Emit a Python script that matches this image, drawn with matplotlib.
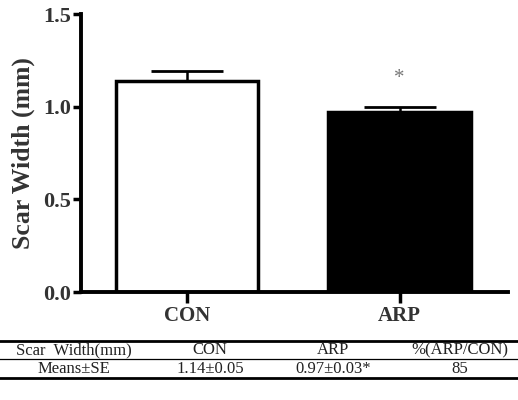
import numpy as np
import matplotlib
matplotlib.use('Agg')
import matplotlib.pyplot as plt
from matplotlib.lines import Line2D

groups = ['CON', 'ARP']
means = [1.14, 0.97]
errs = [0.05, 0.03]
fills = ['white', 'black']
yticks = [0.0, 0.5, 1.0, 1.5]

tab_header = ['Scar  Width(mm)', 'CON', 'ARP', '%(ARP/CON)']
tab_row = ['Means\u00b1SE', '1.14\u00b10.05', '0.97\u00b10.03*', '85']
tab_x = [74, 210, 333, 460]

plt.rcParams['font.family'] = ['Liberation Serif', 'DejaVu Serif']

fig = plt.figure(figsize=(5.18, 4.0), dpi=100)
ax = fig.add_axes([81/518, 1-292/400, (508-81)/518, (292-14)/400])

x = np.arange(len(groups))
ax.bar(x, means, width=0.67, color=fills, edgecolor='black', linewidth=2.5, zorder=2)
ax.errorbar(x, means, yerr=[np.zeros(len(errs)), errs], fmt='none', ecolor='black',
            elinewidth=1.8, capsize=26, capthick=2, zorder=1)
ax.text(x[1], means[1] + errs[1] + 0.1, '*', ha='center', va='bottom', color='#777777', fontsize=15)

ax.set_xlim(-0.5, 1.51)
ax.set_ylim(0, 1.5)
ax.set_yticks(yticks)
ax.set_yticklabels(['%.1f' % v for v in yticks], fontsize=16, fontweight='bold', color='#333333')
ax.set_xticks(x)
ax.set_xticklabels(groups, fontsize=15, fontweight='bold', color='#333333')
ax.tick_params(axis='y', width=2.5, length=6, direction='out', pad=1)
ax.tick_params(axis='x', width=2.5, length=8, direction='out', pad=2)
ax.set_ylabel('Scar Width (mm)', fontsize=18.5, fontweight='bold', color='#333333', labelpad=6)
for s in ['top', 'right']:
    ax.spines[s].set_visible(False)
for s in ['left', 'bottom']:
    ax.spines[s].set_linewidth(2.8)

# table under chart
for yy, lw in [(341, 2.0), (359, 0.9), (378, 2.0)]:
    fig.add_artist(Line2D([0, 1], [1-yy/400, 1-yy/400], color='black', linewidth=lw, transform=fig.transFigure))
for xx, h, r in zip(tab_x, tab_header, tab_row):
    fig.text(xx/518, 1-350.5/400, h, ha='center', va='center', fontsize=12, color='#222222')
    fig.text(xx/518, 1-369/400, r, ha='center', va='center', fontsize=12, color='#222222')

fig.savefig('out.png', dpi=100)
